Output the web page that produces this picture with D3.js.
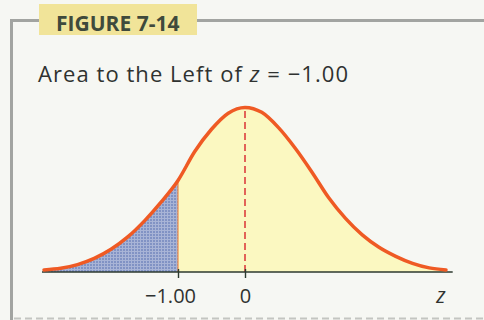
<!DOCTYPE html>
<html>
<head>
<meta charset="utf-8">
<script src="https://cdn.jsdelivr.net/npm/d3@7"></script>
<style>
  html, body { margin: 0; padding: 0; background: #f6f7f3; }
  svg { display: block; }
</style>
</head>
<body>
<svg id="chart" width="484" height="320"></svg>
<script>
// Standard normal curve, sampled heights (density) at each z
const zValues = [-3, -2.75, -2.5, -2.25, -2, -1.75, -1.5, -1.25, -1, -0.75, -0.5, -0.25,
                 0, 0.25, 0.5, 0.75, 1, 1.25, 1.5, 1.75, 2, 2.25, 2.5, 2.75, 3];
const density = [0.005, 0.009, 0.018, 0.033, 0.055, 0.085, 0.124, 0.170, 0.222, 0.292, 0.346, 0.385,
                 0.399, 0.387, 0.350, 0.300, 0.242, 0.180, 0.130, 0.090, 0.060, 0.038, 0.021, 0.010, 0.005];
const cutoff = -1;                 // shaded area lies to the left of this z
const tickValues = [-1, 0];
const figureLabel = "FIGURE 7-14";
const axisName = "z";

const points = zValues.map((z, i) => ({ z, d: density[i] }));

const svg = d3.select("#chart");
const font = "'Open Sans', 'Noto Sans', sans-serif";

// scales
const x = d3.scaleLinear().domain([-3, 3]).range([44, 446]);
const y = d3.scaleLinear().domain([0, 0.4]).range([272, 107]);

// halftone texture for the shaded tail
const defs = svg.append("defs");
const pat = defs.append("pattern")
  .attr("id", "halftone").attr("width", 3).attr("height", 3)
  .attr("patternUnits", "userSpaceOnUse");
pat.append("rect").attr("width", 3).attr("height", 3).attr("fill", "#a8b4d6");
pat.append("rect").attr("x", 0).attr("y", 0).attr("width", 2).attr("height", 2).attr("fill", "#8193c4");

// frame
const frame = svg.append("g").attr("stroke", "#a2a4a1").attr("stroke-width", 3).attr("fill", "none");
frame.append("path").attr("d", "M11.5,320 V20.5 H40");
frame.append("path").attr("d", "M197,20.5 H484");
svg.append("line")
  .attr("x1", 14).attr("x2", 484).attr("y1", 318.5).attr("y2", 318.5)
  .attr("stroke", "#c3c5c1").attr("stroke-width", 2).attr("stroke-dasharray", "7,4");

// figure label
svg.append("rect").attr("x", 39).attr("y", 4).attr("width", 158).attr("height", 31)
  .attr("fill", "#f1e499");
svg.append("text").attr("x", 56).attr("y", 31)
  .attr("font-family", font).attr("font-weight", 700).attr("font-size", 21)
  .attr("fill", "#3f4a3c").text(figureLabel);

// subtitle, spread to its printed width
const sub = svg.append("text").attr("x", 38).attr("y", 82)
  .attr("font-family", font).attr("font-size", 22).attr("fill", "#2f3230");
sub.append("tspan").text("Area to the Left of ");
sub.append("tspan").attr("font-style", "italic").text("z");
sub.append("tspan").text(" = \u22121.00");
const subW = sub.node().getComputedTextLength();
const chars = "Area to the Left of z = \u22121.00".length;
sub.attr("letter-spacing", Math.max(0, (310 - subW) / (chars - 1)));

// areas
const area = d3.area().x(d => x(d.z)).y0(y(0)).y1(d => y(d.d)).curve(d3.curveMonotoneX);
const right = points.filter(p => p.z >= cutoff);
const left = points.filter(p => p.z <= cutoff);
svg.append("path").datum(right).attr("d", area).attr("fill", "#fbf8c1");
svg.append("path").datum(left).attr("d", area).attr("fill", "url(#halftone)");

// boundary at the cutoff
const cut = points.find(p => p.z === cutoff);
svg.append("line")
  .attr("x1", x(cutoff)).attr("x2", x(cutoff)).attr("y1", y(0)).attr("y2", y(cut.d))
  .attr("stroke", "#f08a4a").attr("stroke-width", 1.2);

// mean line
const peak = points.find(p => p.z === 0);
svg.append("line")
  .attr("x1", x(0)).attr("x2", x(0)).attr("y1", y(0)).attr("y2", y(peak.d))
  .attr("stroke", "#d8262c").attr("stroke-width", 1.4).attr("stroke-dasharray", "7,4");

// baseline
svg.append("line")
  .attr("x1", x(-3.03)).attr("x2", x(3.1)).attr("y1", y(0)).attr("y2", y(0))
  .attr("stroke", "#2c3a2f").attr("stroke-width", 1.6);

// curve
const line = d3.line().x(d => x(d.z)).y(d => y(d.d)).curve(d3.curveMonotoneX);
svg.append("path").datum(points).attr("d", line)
  .attr("fill", "none").attr("stroke", "#ef5a24").attr("stroke-width", 3.5)
  .attr("stroke-linecap", "round");

// axis ticks
const axis = d3.axisBottom(x).tickValues(tickValues)
  .tickFormat(d => d === 0 ? "0" : d3.format(".2f")(d))
  .tickSizeInner(6).tickSizeOuter(0).tickPadding(11);
const gAxis = svg.append("g").attr("transform", `translate(0,${y(0)})`).call(axis);
gAxis.select(".domain").remove();
gAxis.selectAll(".tick line").attr("y1", -3).attr("stroke", "#2c3a2f").attr("stroke-width", 1.4);
gAxis.selectAll(".tick text")
  .attr("font-family", font).attr("font-size", 20).attr("fill", "#2f3230")
  .attr("dx", d => d === 0 ? 0 : -8);

svg.append("text").attr("x", 441).attr("y", 303)
  .attr("text-anchor", "middle").attr("font-family", font).attr("font-style", "italic")
  .attr("font-size", 21).attr("fill", "#2f3230").text(axisName);
</script>
</body>
</html>
